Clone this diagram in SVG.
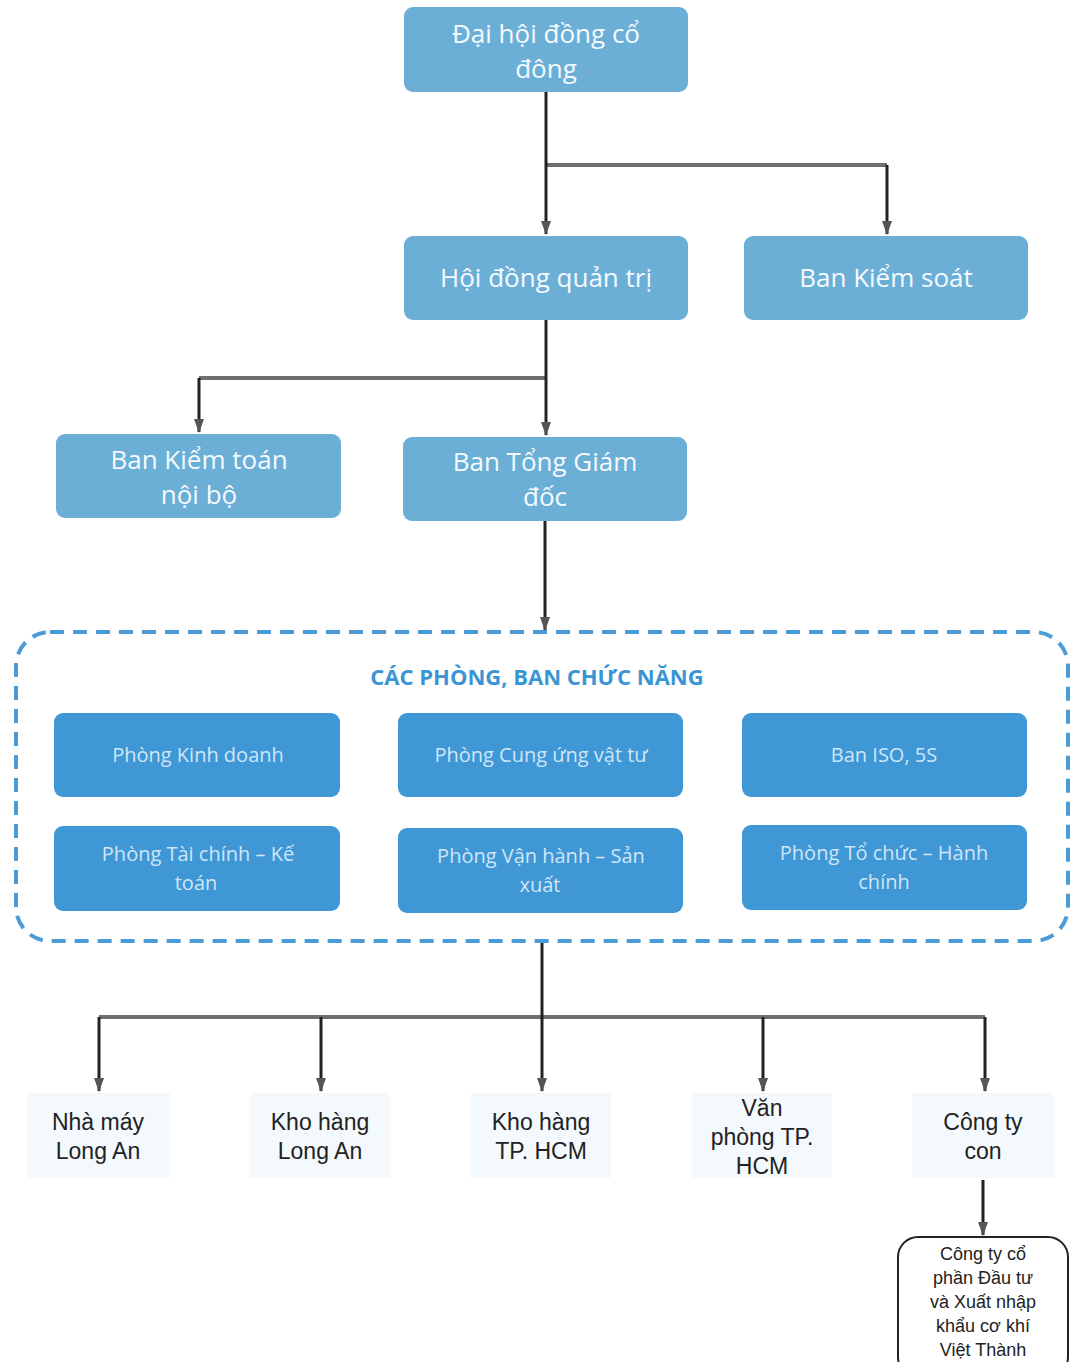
<svg xmlns="http://www.w3.org/2000/svg" width="1071" height="1362" viewBox="0 0 1071 1362">
<style>
.top{fill:#6BAFD6;}
.tt{font-family:"Open Sans","Noto Sans",sans-serif;font-size:26px;fill:#F4FAFE;text-anchor:middle;}
.in{fill:#3F97D6;}
.it{font-family:"Open Sans","Noto Sans",sans-serif;font-size:20px;fill:#CFE6F6;text-anchor:middle;}
.bt{fill:#F3F9FC;}
.btx{font-family:"Liberation Sans","Noto Sans",sans-serif;font-size:23px;fill:#222;text-anchor:middle;}
.ft{font-family:"Liberation Sans","Noto Sans",sans-serif;font-size:18px;fill:#222;text-anchor:middle;}
.v{stroke:#222;stroke-width:3;fill:none;}
.h{stroke:#6E6E6E;stroke-width:4;fill:none;}
</style>
<defs>
<marker id="ah" viewBox="0 0 14 10" refX="13" refY="5" markerWidth="14" markerHeight="10" markerUnits="userSpaceOnUse" orient="auto">
<path d="M0,0 L14,5 L0,10 Z" fill="#555"/>
</marker>
</defs>
<rect width="1071" height="1362" fill="#fff"/>
<g id="connectors">
<path class="h" d="M546,165 H887"/>
<path class="v" d="M546,92 V234" marker-end="url(#ah)"/>
<path class="v" d="M887,165 V234" marker-end="url(#ah)"/>
<path class="h" d="M199,378 H546"/>
<path class="v" d="M546,320 V435" marker-end="url(#ah)"/>
<path class="v" d="M199,378 V432" marker-end="url(#ah)"/>
<path class="v" d="M545,521 V630" marker-end="url(#ah)"/>
<path class="h" d="M99,1017 H985"/>
<path class="v" d="M542,942 V1091" marker-end="url(#ah)"/>
<path class="v" d="M99,1017 V1091" marker-end="url(#ah)"/>
<path class="v" d="M321,1017 V1091" marker-end="url(#ah)"/>
<path class="v" d="M763,1017 V1091" marker-end="url(#ah)"/>
<path class="v" d="M985,1017 V1091" marker-end="url(#ah)"/>
<path class="v" d="M983,1180 V1235" marker-end="url(#ah)"/>
</g>
<g id="n-dhdcd"><rect class="top" x="404" y="7" width="284" height="85" rx="9"/><text class="tt" x="546" y="43">Đại hội đồng cổ</text><text class="tt" x="546" y="78">đông</text></g>
<g id="n-hdqt"><rect class="top" x="404" y="236" width="284" height="84" rx="9"/><text class="tt" x="546" y="287">Hội đồng quản trị</text></g>
<g id="n-bks"><rect class="top" x="744" y="236" width="284" height="84" rx="9"/><text class="tt" x="886" y="287">Ban Kiểm soát</text></g>
<g id="n-bktnb"><rect class="top" x="56" y="434" width="285" height="84" rx="9"/><text class="tt" x="199" y="469">Ban Kiểm toán</text><text class="tt" x="199" y="504">nội bộ</text></g>
<g id="n-btgd"><rect class="top" x="403" y="437" width="284" height="84" rx="9"/><text class="tt" x="545" y="471">Ban Tổng Giám</text><text class="tt" x="545" y="506">đốc</text></g>
<g id="n-group">
<rect x="16" y="632" width="1052" height="309" rx="34" fill="none" stroke="#4A9BD6" stroke-width="4" stroke-dasharray="14 9"/>
<text x="537" y="685" font-family="Open Sans,Noto Sans,sans-serif" font-size="22" font-weight="bold" fill="#3A95D5" text-anchor="middle">CÁC PHÒNG, BAN CHỨC NĂNG</text>
</g>
<g id="n-pkd"><rect class="in" x="54" y="713" width="286" height="84" rx="9"/><text class="it" x="198" y="762">Phòng Kinh doanh</text></g>
<g id="n-pcu"><rect class="in" x="398" y="713" width="285" height="84" rx="9"/><text class="it" x="541" y="762">Phòng Cung ứng vật tư</text></g>
<g id="n-iso"><rect class="in" x="742" y="713" width="285" height="84" rx="9"/><text class="it" x="884" y="762">Ban ISO, 5S</text></g>
<g id="n-ptc"><rect class="in" x="54" y="826" width="286" height="85" rx="9"/><text class="it" x="198" y="861">Phòng Tài chính – Kế</text><text class="it" x="196" y="890">toán</text></g>
<g id="n-pvh"><rect class="in" x="398" y="828" width="285" height="85" rx="9"/><text class="it" x="541" y="863">Phòng Vận hành – Sản</text><text class="it" x="540" y="892">xuất</text></g>
<g id="n-ptchc"><rect class="in" x="742" y="825" width="285" height="85" rx="9"/><text class="it" x="884" y="860">Phòng Tổ chức – Hành</text><text class="it" x="884" y="889">chính</text></g>
<g id="n-nmla"><rect class="bt" x="27" y="1093" width="143" height="85"/><text class="btx" x="98" y="1130">Nhà máy</text><text class="btx" x="98" y="1159">Long An</text></g>
<g id="n-khla"><rect class="bt" x="250" y="1093" width="140" height="85"/><text class="btx" x="320" y="1130">Kho hàng</text><text class="btx" x="320" y="1159">Long An</text></g>
<g id="n-khhcm"><rect class="bt" x="471" y="1093" width="140" height="85"/><text class="btx" x="541" y="1130">Kho hàng</text><text class="btx" x="541" y="1159">TP. HCM</text></g>
<g id="n-vphcm"><rect class="bt" x="692" y="1093" width="140" height="85"/><text class="btx" x="762" y="1116">Văn</text><text class="btx" x="762" y="1145">phòng TP.</text><text class="btx" x="762" y="1174">HCM</text></g>
<g id="n-ctc"><rect class="bt" x="912" y="1093" width="142" height="85"/><text class="btx" x="983" y="1130">Công ty</text><text class="btx" x="983" y="1159">con</text></g>
<g id="n-vt"><rect x="898" y="1237" width="170" height="140" rx="20" fill="#fff" stroke="#222" stroke-width="2"/>
<text class="ft" x="983" y="1260">Công ty cổ</text><text class="ft" x="983" y="1284">phần Đầu tư</text><text class="ft" x="983" y="1308">và Xuất nhập</text><text class="ft" x="983" y="1332">khẩu cơ khí</text><text class="ft" x="983" y="1356">Việt Thành</text></g>
</svg>
